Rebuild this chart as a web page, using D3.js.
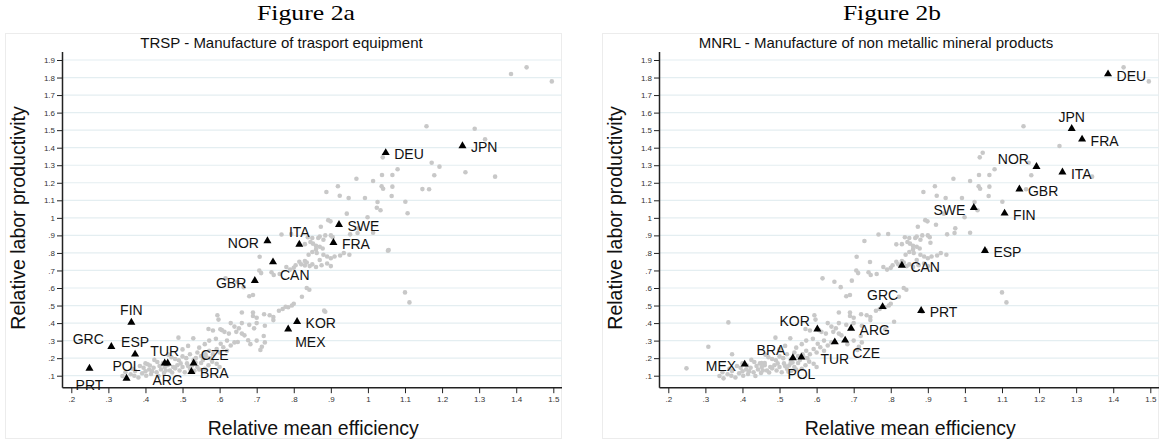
<!DOCTYPE html>
<html>
<head>
<meta charset="utf-8">
<script src="https://cdn.jsdelivr.net/npm/d3@7"></script>
<style>
body{margin:0;background:#fff;}
svg{display:block;font-family:Arial,"Liberation Sans",sans-serif;}
</style>
</head>
<body>
<div class="chart"></div>
<script>
var width = 1162,
	height = 441;

// TRSP - highlighted sector of Figure 2a
var trspCodes = ["PRT","GRC","FIN","ESP","POL","TUR","ARG","CZE","BRA","GBR","CAN","NOR","KOR","MEX","ITA","FRA","SWE","DEU","JPN"];
var trspEff  = [0.249,0.308,0.362,0.372,0.349,0.452,0.460,0.530,0.524,0.695,0.744,0.729,0.809,0.785,0.815,0.907,0.922,1.048,1.255];
var trspProd = [0.142,0.265,0.404,0.222,0.085,0.172,0.172,0.172,0.123,0.642,0.748,0.868,0.408,0.365,0.849,0.858,0.961,1.371,1.410];

// MNRL - highlighted sector of Figure 2b
var mnrlCodes = ["MEX","BRA","POL","KOR","TUR","CZE","ARG","GRC","PRT","CAN","ESP","SWE","FIN","GBR","ITA","NOR","FRA","JPN","DEU"];
var mnrlEff  = [0.406,0.536,0.559,0.602,0.649,0.677,0.693,0.778,0.882,0.830,1.054,1.024,1.107,1.147,1.263,1.193,1.316,1.288,1.386];
var mnrlProd = [0.165,0.201,0.205,0.365,0.292,0.302,0.370,0.493,0.471,0.729,0.813,1.058,1.026,1.164,1.260,1.292,1.448,1.508,1.820];

// all the other sector/country points (grey in both figures)
var otherPoints = [
	[1.428,1.858],[1.496,1.778],[1.158,1.522],[1.040,1.345],[1.172,1.314],[1.080,1.277],[1.066,1.244],[1.038,1.244],
	[1.179,1.243],[1.343,1.235],[0.969,1.223],[1.014,1.210],[0.919,1.180],[1.037,1.180],[1.066,1.178],[1.041,1.166],
	[1.165,1.163],[0.888,1.147],[0.924,1.126],[0.948,1.113],[0.992,1.113],[1.064,1.125],[1.026,1.090],[1.101,1.092],
	[1.034,1.043],[0.943,1.024],[0.999,1.003],[0.899,0.980],[0.893,0.987],[0.873,0.949],[1.014,0.915],[0.972,0.914],
	[0.952,0.906],[0.974,0.940],[1.056,0.817],[1.100,0.575],[1.112,0.518],
	[0.767,0.905],[0.793,0.908],[0.838,0.889],[0.850,0.885],[0.866,0.885],[0.870,0.893],[0.885,0.900],[0.900,0.900],
	[0.905,0.890],[0.880,0.875],[0.845,0.862],[0.852,0.853],[0.830,0.850],[0.860,0.840],[0.870,0.835],[0.878,0.825],
	[0.860,0.820],[0.850,0.805],[0.862,0.800],[0.880,0.790],[0.840,0.790],[0.890,0.780],[0.910,0.780],[0.925,0.785],
	[0.950,0.790],[0.900,0.770],[0.935,0.800],[0.830,0.754],[0.835,0.745],[0.850,0.735],[0.860,0.720],[0.875,0.730],
	[0.890,0.740],[0.900,0.725],[0.843,0.725],[0.820,0.735],[0.815,0.750],[0.870,0.760],[0.800,0.715],[0.790,0.705],
	[0.780,0.720],[0.805,0.730],[0.708,0.778],[0.707,0.700],[0.712,0.685],[0.746,0.674],[0.762,0.680],[0.740,0.690],
	[0.616,0.655],[0.648,0.636],[0.665,0.605],[0.690,0.560],[0.680,0.553],[0.822,0.550],[0.842,0.590],[0.835,0.600],
	[0.800,0.510],[0.785,0.490],[0.770,0.480],[0.760,0.470],[0.795,0.500],[0.885,0.465],[0.735,0.445],[0.720,0.450],
	[0.745,0.435],[0.690,0.460],[0.690,0.440],[0.660,0.460],[0.700,0.430],[0.680,0.390],[0.722,0.385],[0.745,0.417],
	[0.700,0.400],[0.660,0.400],[0.719,0.326],[0.660,0.340],[0.667,0.330],[0.714,0.265],[0.700,0.300],[0.683,0.280],
	[0.722,0.290],[0.710,0.247],[0.594,0.445],[0.597,0.420],[0.570,0.366],[0.582,0.358],[0.613,0.350],[0.625,0.340],
	[0.606,0.360],[0.640,0.380],[0.652,0.370],[0.630,0.400],[0.645,0.350],
	[0.338,0.098],[0.346,0.120],[0.360,0.108],[0.372,0.127],[0.370,0.100],[0.381,0.090],[0.391,0.114],[0.400,0.125],
	[0.402,0.100],[0.410,0.135],[0.415,0.110],[0.422,0.145],[0.430,0.120],[0.435,0.098],[0.442,0.135],[0.450,0.115],
	[0.452,0.150],[0.424,0.190],[0.432,0.178],[0.447,0.170],[0.460,0.160],[0.466,0.130],[0.472,0.118],[0.480,0.142],
	[0.486,0.160],[0.492,0.130],[0.500,0.150],[0.506,0.120],[0.512,0.170],[0.520,0.140],[0.526,0.158],[0.532,0.128],
	[0.540,0.150],[0.550,0.172],[0.560,0.140],[0.570,0.160],[0.580,0.180],[0.592,0.168],[0.600,0.150],
	[0.462,0.220],[0.470,0.205],[0.480,0.195],[0.490,0.188],[0.500,0.210],[0.510,0.200],[0.520,0.222],[0.530,0.190],
	[0.540,0.232],[0.550,0.212],[0.562,0.222],[0.572,0.242],[0.582,0.222],[0.592,0.252],[0.600,0.232],[0.610,0.262],
	[0.620,0.242],[0.630,0.272],[0.603,0.282],[0.620,0.300],[0.640,0.290],[0.590,0.310],[0.489,0.317],[0.529,0.313],
	[0.515,0.270],[0.500,0.250],[0.545,0.260],[0.560,0.280],[0.572,0.300],[0.385,0.155],[0.365,0.140],[0.400,0.170],
	[0.412,0.158],[0.395,0.145],[0.418,0.125],[0.438,0.155],[0.455,0.130],[0.475,0.150],[0.495,0.170],[0.515,0.155],
	[0.535,0.175],[0.555,0.190],[0.575,0.200],[0.545,0.135],[0.565,0.205]
];

// axis ticks
var xTicks = [0.2,0.3,0.4,0.5,0.6,0.7,0.8,0.9,1,1.1,1.2,1.3,1.4,1.5];
var yTicks = [0.1,0.2,0.3,0.4,0.5,0.6,0.7,0.8,0.9,1,1.1,1.2,1.3,1.4,1.5,1.6,1.7,1.8,1.9];

// where the country label sits round its marker (clock position, as in Stata)
var trspLabelPos = {PRT:6,GRC:10,FIN:12,ESP:12,POL:12,TUR:12,ARG:6,CZE:2,BRA:3,GBR:9,CAN:4,NOR:9,KOR:3,MEX:4,ITA:12,FRA:3,SWE:3,DEU:3,JPN:3};
var mnrlLabelPos = {MEX:9,BRA:10,POL:6,KOR:10,TUR:6,CZE:4,ARG:3,GRC:12,PRT:3,CAN:3,ESP:3,SWE:9,FIN:3,GBR:3,ITA:3,NOR:10,FRA:3,JPN:12,DEU:3};
var clock = {
	3:{dx:8.5,dy:6.5,a:"start"},
	9:{dx:-8.5,dy:7,a:"end"},
	12:{dx:0,dy:-7,a:"middle"},
	6:{dx:0,dy:22,a:"middle"},
	4:{dx:7,dy:17.5,a:"start"},
	10:{dx:-7.5,dy:-3,a:"end"},
	2:{dx:7,dy:-3,a:"start"}
};

function zip(codes, xs, ys){
	return codes.map(function(c,i){ return {code:c, x:xs[i], y:ys[i]}; });
}
var trsp = zip(trspCodes, trspEff, trspProd);
var mnrl = zip(mnrlCodes, mnrlEff, mnrlProd);
var others = otherPoints.map(function(p){ return {x:p[0], y:p[1]}; });

var panels = [
	{fig:"Figure 2a", figX:306, title:"TRSP - Manufacture of trasport equipment", titleX:281.5, ox:5,
	 hi:trsp, pos:trspLabelPos, grey:others.concat(mnrl)},
	{fig:"Figure 2b", figX:892, title:"MNRL - Manufacture of non metallic mineral products", titleX:876, ox:602,
	 hi:mnrl, pos:mnrlLabelPos, grey:others.concat(trsp)}
];

var svg = d3.select(".chart").append("svg").attr("width", width).attr("height", height);

function fmt(d){
	var s = d3.format(".1f")(d);
	if (s.slice(-2) == ".0") s = s.slice(0,-2);
	if (s.charAt(0) == "0") s = s.slice(1);
	return s;
}

function drawPanel(p){
	var g = svg.append("g");
	var ox = p.ox,
		axX = ox + 57.5,
		axY = 387.7,
		right = ox + 557;
	var x = d3.scaleLinear().domain([0.2,1.5]).range([ox+66.3, ox+548.3]);
	var y = d3.scaleLinear().domain([0.1,1.9]).range([375.7, 60]);

	svg.append("text").attr("x", p.figX).attr("y", 20)
		.attr("text-anchor","middle")
		.style("font-family","'Liberation Serif','DejaVu Serif',serif")
		.style("font-size","21px")
		.attr("textLength", 98).attr("lengthAdjust","spacingAndGlyphs")
		.text(p.fig);

	g.append("rect").attr("x", ox+0.5).attr("y", 33.5).attr("width", 556).attr("height", 405)
		.attr("fill","none").attr("stroke","#ececec");

	g.append("text").attr("x", p.titleX).attr("y", 47.5).attr("text-anchor","middle")
		.style("font-size","15px").attr("fill","#111").text(p.title);

	// grid
	g.selectAll("line.grid").data(yTicks).enter().append("line").attr("class","grid")
		.attr("x1", axX).attr("x2", right).attr("y1", function(d){return y(d);}).attr("y2", function(d){return y(d);})
		.attr("stroke","#e4eef1").attr("stroke-width",1.2);

	// axes
	var ya = g.append("g").attr("transform","translate("+axX+",0)")
		.call(d3.axisLeft(y).tickValues(yTicks).tickFormat(fmt).tickSize(5.5).tickPadding(2));
	var xa = g.append("g").attr("transform","translate(0,"+axY+")")
		.call(d3.axisBottom(x).tickValues(xTicks).tickFormat(fmt).tickSize(5.5).tickPadding(3));
	[ya, xa].forEach(function(a){
		a.select(".domain").remove();
		a.selectAll(".tick line").attr("stroke","#222");
		a.selectAll(".tick text").attr("fill","#333").style("font-size","8px").style("font-family","Arial,'Liberation Sans',sans-serif");
	});
	g.append("line").attr("x1",axX).attr("x2",axX).attr("y1",52).attr("y2",axY).attr("stroke","#222").attr("stroke-width",1.5);
	g.append("line").attr("x1",axX).attr("x2",right).attr("y1",axY).attr("y2",axY).attr("stroke","#222").attr("stroke-width",1.5);

	// axis titles
	g.append("text").attr("x", (axX+right)/2 + 1).attr("y", 435).attr("text-anchor","middle")
		.style("font-size","19.5px").attr("fill","#111").text("Relative mean efficiency");
	g.append("text").attr("transform","translate("+(ox+20)+","+218+") rotate(-90)").attr("text-anchor","middle")
		.style("font-size","19.5px").attr("fill","#111").text("Relative labor productivity");

	// grey points of the other sectors
	g.selectAll("circle").data(p.grey).enter().append("circle")
		.attr("cx", function(d){return x(d.x);})
		.attr("cy", function(d){return y(d.y);})
		.attr("r", 2.3)
		.attr("fill","#c8c8c8");

	// highlighted sector
	g.selectAll("path.tri").data(p.hi).enter().append("path").attr("class","tri")
		.attr("d", d3.symbol(d3.symbolTriangle, 28))
		.attr("transform", function(d){return "translate("+x(d.x)+","+y(d.y)+")";})
		.attr("fill","#000");

	g.selectAll("text.lab").data(p.hi).enter().append("text").attr("class","lab")
		.attr("x", function(d){return x(d.x) + clock[p.pos[d.code]].dx;})
		.attr("y", function(d){return y(d.y) + clock[p.pos[d.code]].dy;})
		.attr("text-anchor", function(d){return clock[p.pos[d.code]].a;})
		.style("font-size","14px").attr("fill","#111")
		.text(function(d){return d.code;});
}

panels.forEach(drawPanel);
</script>
</body>
</html>
